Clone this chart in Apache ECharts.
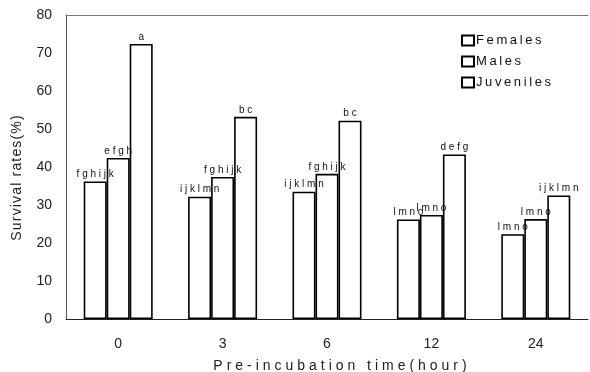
<!DOCTYPE html>
<html><head><meta charset="utf-8">
<script src="https://cdn.jsdelivr.net/npm/echarts@6/dist/echarts.min.js"></script>
<style>html,body{margin:0;padding:0;background:#fff}#c{width:590px;height:372px}</style>
</head><body><div id="c"></div>
<script>
const categories = ['0', '3', '6', '12', '24'];
const females = [36.2, 32.2, 33.5, 26.2, 22.3];
const males = [42.4, 37.4, 38.2, 27.4, 26.3];
const juveniles = [72.4, 53.2, 52.2, 43.3, 32.5];
const femaleLabels = ['fghijk', 'ijklmn', 'ijklmn', 'lmno', 'lmno'];
const maleLabels = ['efgh', 'fghijk', 'fghijk', 'lmno', 'lmno'];
const juvenileLabels = ['a', 'bc', 'bc', 'defg', 'ijklmn'];
const yTicks = [0, 10, 20, 30, 40, 50, 60, 70, 80];

const spaced = (s, sep) => s.split('').join(sep);
const font = 'Liberation Sans, Arial, sans-serif';

function mk(name, data, labels) {
  return {
    name: name, type: 'bar', data: data, barWidth: 23, barGap: '0%',
    itemStyle: { color: '#fff', borderColor: '#000', borderWidth: 1.6 },
    label: {
      show: true, position: 'top', distance: 2, color: '#111',
      fontFamily: font, fontSize: 10,
      formatter: p => spaced(labels[p.dataIndex], ' ')
    },
    emphasis: { disabled: true }
  };
}

const chart = echarts.init(document.getElementById('c'), null, { renderer: 'canvas' });
chart.setOption({
  animation: false,
  backgroundColor: '#fff',
  grid: { left: 66, right: 2, top: 15, bottom: 53, containLabel: false, outerBoundsMode: 'none' },
  legend: {
    orient: 'vertical', left: 456, top: 29, itemGap: 8,
    itemWidth: 12, itemHeight: 10, icon: 'rect',
    textStyle: { fontFamily: font, fontSize: 13, color: '#111', padding: [0, 0, 0, -3] },
    formatter: n => spaced(n, '\u2009'),
    data: ['Females', 'Males', 'Juveniles']
  },
  graphic: [{
    type: 'text', x: 17, y: 178, rotation: Math.PI / 2,
    style: {
      text: spaced('Survival rates(%)', '\u200A'),
      font: '14px ' + font, fill: '#222',
      textAlign: 'center', textVerticalAlign: 'middle'
    }
  }],
  xAxis: [{
    type: 'category', data: categories,
    axisLine: { lineStyle: { color: '#222', width: 1 } },
    axisTick: { show: false },
    axisLabel: { fontFamily: font, fontSize: 14, color: '#222', margin: 18 },
    name: spaced('Pre-incubation time(hour)', '\u2009\u200A'),
    nameLocation: 'middle', nameGap: 40,
    nameTextStyle: { fontFamily: font, fontSize: 14, color: '#222', padding: [0, 0, 0, 26] }
  }, {
    type: 'category', data: categories, position: 'top',
    axisLine: { show: true, lineStyle: { color: '#777', width: 1 } },
    axisTick: { show: false }, axisLabel: { show: false }
  }],
  yAxis: {
    type: 'value', min: 0, max: 80, interval: 10,
    axisLine: { show: true, lineStyle: { color: '#555', width: 1 } },
    axisTick: { show: false },
    splitLine: { show: false },
    axisLabel: {
      fontFamily: font, fontSize: 14, color: '#222', margin: 14,
      formatter: v => yTicks.includes(v) ? String(v) : ''
    }
  },
  series: [
    mk('Females', females, femaleLabels),
    mk('Males', males, maleLabels),
    mk('Juveniles', juveniles, juvenileLabels)
  ]
});
</script></body></html>
